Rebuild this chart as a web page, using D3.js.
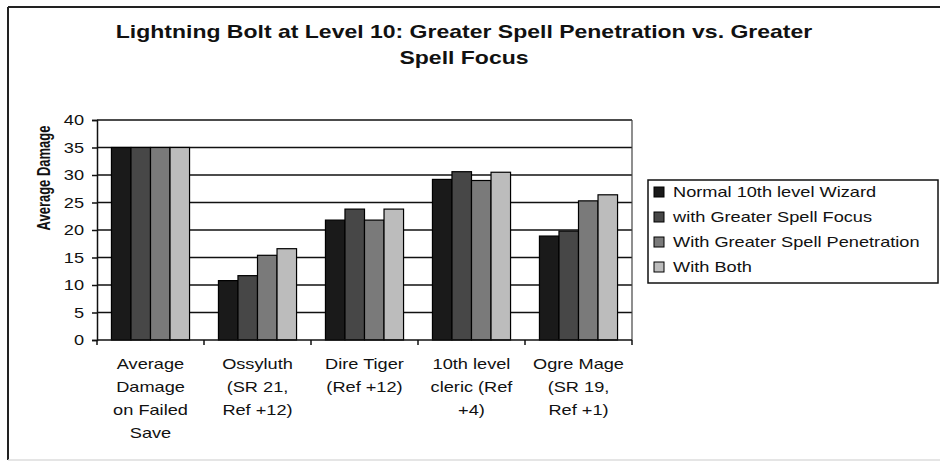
<!DOCTYPE html>
<html>
<head>
<meta charset="utf-8">
<script src="https://cdnjs.cloudflare.com/ajax/libs/d3/7.8.5/d3.min.js"></script>
<style>
  body { margin: 0; background: #fff; }
  text { font-family: "Liberation Sans", Arial, sans-serif; fill: #111; }
</style>
</head>
<body>
<svg id="chart" width="940" height="464"></svg>
<script>
// chart data
var categories = [
  ["Average", "Damage", "on Failed", "Save"],
  ["Ossyluth", "(SR 21,", "Ref +12)"],
  ["Dire Tiger", "(Ref +12)"],
  ["10th level", "cleric (Ref", "+4)"],
  ["Ogre Mage", "(SR 19,", "Ref +1)"]
];
var series = ["Normal 10th level Wizard", "with Greater Spell Focus",
  "With Greater Spell Penetration", "With Both"];
var normal   = [35, 10.8, 21.8, 29.2, 18.9];
var focus    = [35, 11.7, 23.8, 30.6, 19.8];
var penetr   = [35, 15.4, 21.8, 29.0, 25.3];
var both     = [35, 16.6, 23.8, 30.5, 26.4];
var yTicks = [0, 5, 10, 15, 20, 25, 30, 35, 40];
var titleLines = ["Lightning Bolt at Level 10: Greater Spell Penetration vs. Greater", "Spell Focus"];

var values = [normal, focus, penetr, both];
var colors = ["#1a1a1a", "#474747", "#7a7a7a", "#bcbcbc"];
var sx = 1.3; // the picture is stretched sideways

var svg = d3.select("#chart");

// outer frame
svg.append("line").attr("x1", 8).attr("x2", 945).attr("y1", 7).attr("y2", 7)
  .style("stroke", "#222").style("stroke-width", 2);
svg.append("line").attr("x1", 8).attr("x2", 8).attr("y1", 7).attr("y2", 460)
  .style("stroke", "#222").style("stroke-width", 2);
svg.append("line").attr("x1", 8).attr("x2", 945).attr("y1", 460).attr("y2", 460)
  .style("stroke", "#ddd").style("stroke-width", 1.5);

var margin = {left: 97, right: 632, top: 120, bottom: 340};

var x = d3.scaleBand()
  .domain(d3.range(categories.length))
  .range([margin.left, margin.right]);

var xs = d3.scaleBand()
  .domain(d3.range(series.length))
  .range([0, x.bandwidth()])
  .paddingOuter(0.74);

var y = d3.scaleLinear().domain([0, 40]).range([margin.bottom, margin.top]);

// grid lines
svg.selectAll("grid")
  .data(yTicks.slice(1))
  .enter().append("line")
  .attr("x1", margin.left).attr("x2", margin.right)
  .attr("y1", d => y(d)).attr("y2", d => y(d))
  .style("stroke", "#111").style("stroke-width", 1.5);

// plot frame right side
svg.append("line")
  .attr("x1", margin.right).attr("x2", margin.right)
  .attr("y1", margin.top).attr("y2", margin.bottom)
  .style("stroke", "#444").style("stroke-width", 1.2);

// bars
var groups = svg.selectAll("grp")
  .data(categories)
  .enter().append("g")
  .attr("transform", (d, i) => "translate(" + x(i) + ",0)");

groups.selectAll("rect")
  .data((d, i) => values.map((s, k) => ({k: k, v: s[i]})))
  .enter().append("rect")
  .attr("x", d => xs(d.k))
  .attr("width", xs.bandwidth())
  .attr("y", d => y(d.v))
  .attr("height", d => y(0) - y(d.v))
  .style("fill", d => colors[d.k])
  .style("stroke", "#000")
  .style("stroke-width", 1.2);

// y axis
var yAxis = svg.append("g")
  .attr("transform", "translate(" + margin.left + ",0)")
  .call(d3.axisLeft(y).tickValues(yTicks).tickSize(5).tickFormat(""));
yAxis.select(".domain").style("stroke", "#111").style("stroke-width", 1.5);
yAxis.selectAll(".tick line").style("stroke", "#111").style("stroke-width", 1.5);

svg.selectAll("ylab")
  .data(yTicks)
  .enter().append("text")
  .attr("transform", d => "translate(84," + y(d) + ") scale(" + sx + ",1)")
  .attr("dy", "0.36em")
  .style("text-anchor", "end")
  .style("font-size", "14px")
  .text(d => d);

// x axis
var xAxis = svg.append("g")
  .attr("transform", "translate(0," + margin.bottom + ")");
xAxis.append("line")
  .attr("x1", margin.left).attr("x2", margin.right)
  .style("stroke", "#111").style("stroke-width", 1.5);
xAxis.selectAll("tk")
  .data(d3.range(categories.length + 1))
  .enter().append("line")
  .attr("x1", d => margin.left + d * x.step())
  .attr("x2", d => margin.left + d * x.step())
  .attr("y1", 0).attr("y2", 5)
  .style("stroke", "#111").style("stroke-width", 1.5);

categories.forEach(function(lines, i) {
  var cx = x(i) + x.bandwidth() / 2;
  lines.forEach(function(t, j) {
    svg.append("text")
      .attr("transform", "translate(" + cx + "," + (369 + j * 23) + ") scale(" + sx + ",1)")
      .style("text-anchor", "middle")
      .style("font-size", "14px")
      .text(t);
  });
});

// y axis title
svg.append("text")
  .attr("transform", "translate(50,178) scale(1.4,1) rotate(-90)")
  .style("text-anchor", "middle")
  .style("font-size", "13px")
  .style("font-weight", "bold")
  .text("Average Damage");

// chart title
titleLines.forEach(function(t, j) {
  svg.append("text")
    .attr("transform", "translate(464," + (38 + j * 26) + ") scale(" + sx + ",1)")
    .style("text-anchor", "middle")
    .style("font-size", "17.7px")
    .style("font-weight", "bold")
    .text(t);
});

// legend
var legend = svg.append("g");
legend.append("rect")
  .attr("x", 648).attr("y", 180).attr("width", 290).attr("height", 103)
  .style("fill", "#fff").style("stroke", "#111").style("stroke-width", 1.5);

legend.selectAll("sw")
  .data(series)
  .enter().append("rect")
  .attr("x", 654)
  .attr("y", (d, i) => 187 + i * 25)
  .attr("width", 10).attr("height", 10)
  .style("fill", (d, i) => colors[i])
  .style("stroke", "#000").style("stroke-width", 1);

legend.selectAll("lt")
  .data(series)
  .enter().append("text")
  .attr("transform", (d, i) => "translate(673," + (192 + i * 25) + ") scale(" + sx + ",1)")
  .attr("dy", "0.36em")
  .style("font-size", "14px")
  .text(d => d);
</script>
</body>
</html>
